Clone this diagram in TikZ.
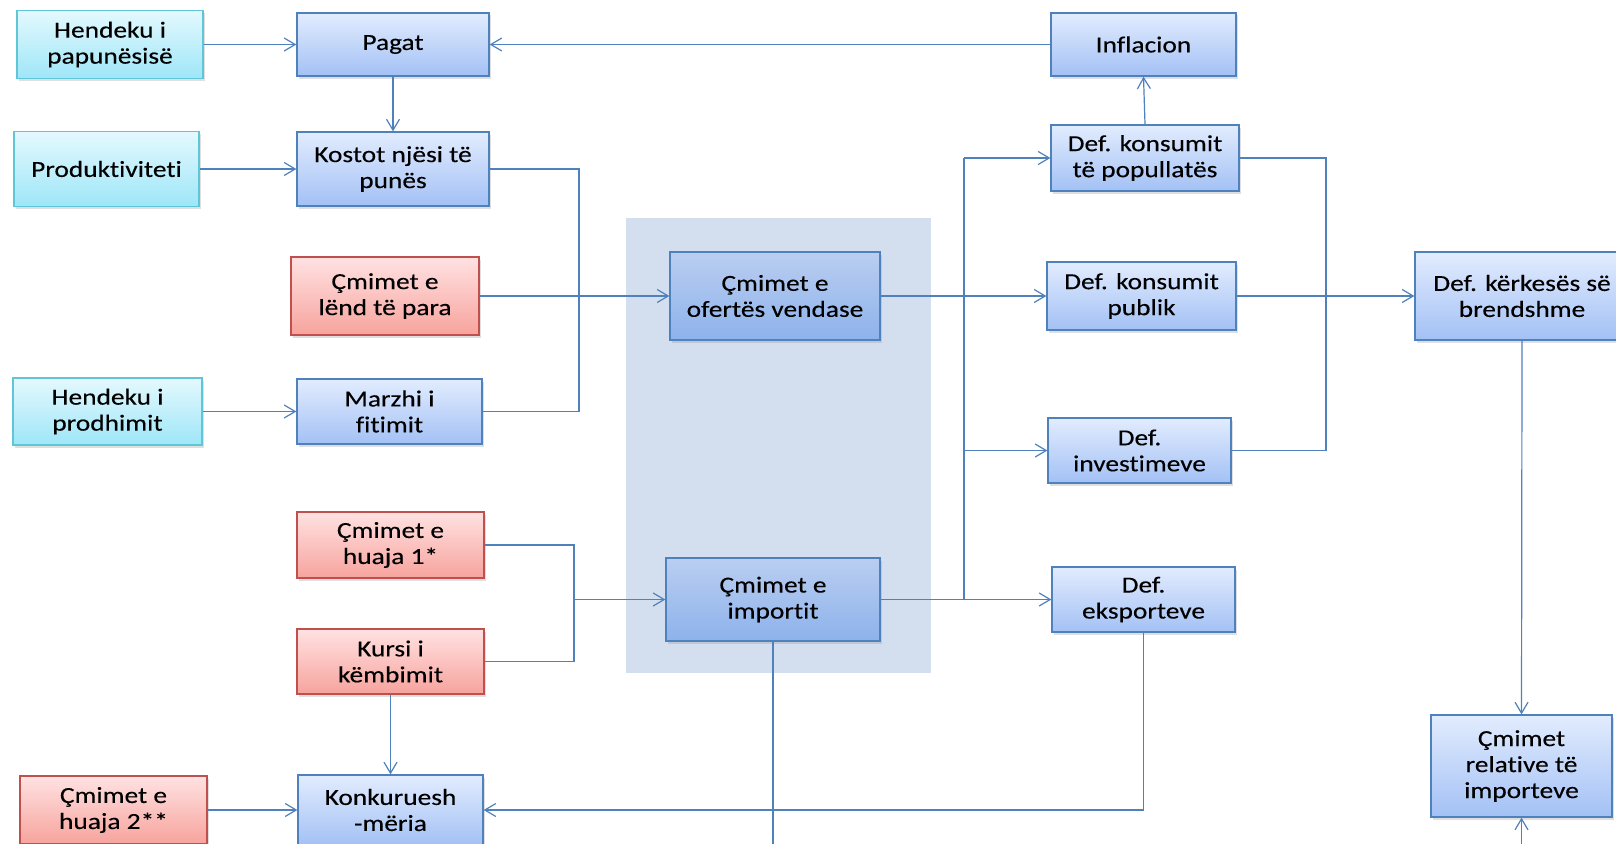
\documentclass[tikz,border=0pt]{standalone}
\usepackage{fontspec}
\setmainfont{Carlito}[Ligatures=NoCommon, FakeStretch=1.19, FakeBold=0.25]
\usetikzlibrary{arrows.meta,shadows}
\definecolor{lineblue}{HTML}{4F81BD}
\definecolor{cyantop}{HTML}{E4F9FE}
\definecolor{cyanbot}{HTML}{9EE6F8}
\definecolor{cyanedge}{HTML}{5FC6D8}
\definecolor{bluetop}{HTML}{E2ECFE}
\definecolor{bluebot}{HTML}{A3C1F5}
\definecolor{redtop}{HTML}{FFE2E2}
\definecolor{redbot}{HTML}{F7A39D}
\definecolor{rededge}{HTML}{C0504D}
\definecolor{midtop}{HTML}{BACEF1}
\definecolor{midbot}{HTML}{8DB2EB}
\definecolor{shadebg}{HTML}{D3DFEE}
\tikzset{
  box/.style={draw, line width=1.3pt, align=center, inner sep=2pt,
    font=\fontsize{23}{26}\selectfont,
    drop shadow={opacity=0.25, shadow xshift=2pt, shadow yshift=-2.5pt}},
  cbox/.style={box, draw=cyanedge, top color=cyantop, bottom color=cyanbot},
  bbox/.style={box, draw=lineblue, top color=bluetop, bottom color=bluebot},
  rbox/.style={box, draw=rededge, top color=redtop, bottom color=redbot},
  mbox/.style={box, draw=lineblue, top color=midtop, bottom color=midbot},
  conn/.style={draw=lineblue, line width=1.2pt},
  arr/.style={conn, -{Straight Barb[length=11pt,width=13pt,line width=1.2pt]}}
}
\begin{document}
\begin{tikzpicture}[x=1pt,y=-1pt]
\useasboundingbox (0,0) rectangle (1616,843);
\fill[white] (0,0) rectangle (1616,843);
\begin{scope}
\clip (0,0) rectangle (1616,843);
\fill[shadebg] (626,218) rectangle (931,673);

% left column
\node[cbox, minimum width=186pt, minimum height=68pt] (hp) at (110,44.5) {Hendeku i\\papunësisë};
\node[cbox, minimum width=185pt, minimum height=75pt] (prod) at (106.5,169) {Produktiviteti};
\node[cbox, minimum width=189pt, minimum height=67pt] (hprod) at (107.5,411.5) {Hendeku i\\prodhimit};
\node[rbox, minimum width=187pt, minimum height=68pt] (hua2) at (113.5,810) {Çmimet e\\huaja 2**};

% second column
\node[bbox, minimum width=192pt, minimum height=63pt] (pagat) at (393,44.5) {Pagat};
\node[bbox, minimum width=192pt, minimum height=74pt] (kostot) at (393,169) {Kostot njësi të\\punës};
\node[rbox, minimum width=188pt, minimum height=78pt] (lend) at (385,296) {Çmimet e\\lënd të para};
\node[bbox, minimum width=185pt, minimum height=65pt] (marzhi) at (389.5,411.5) {Marzhi i\\fitimit};
\node[rbox, minimum width=187pt, minimum height=66pt] (hua1) at (390.5,545) {Çmimet e\\huaja 1*};
\node[rbox, minimum width=187pt, minimum height=65pt] (kursi) at (390.5,661.5) {Kursi i\\këmbimit};
\node[bbox, minimum width=185pt, minimum height=70pt] (konk) at (390.5,810) {Konkuruesh\\-mëria};

% center
\node[mbox, minimum width=210pt, minimum height=88pt] (ofer) at (775,296) {Çmimet e\\ofertës vendase};
\node[mbox, minimum width=214pt, minimum height=83pt] (impo) at (773,599.5) {Çmimet e\\importit};

% right columns
\node[bbox, minimum width=185pt, minimum height=63pt] (infl) at (1143.5,44.5) {Inflacion};
\node[bbox, minimum width=188pt, minimum height=66pt] (dkp) at (1145,158) {Def. konsumit\\të popullatës};
\node[bbox, minimum width=189pt, minimum height=68pt] (dpub) at (1141.5,296) {Def. konsumit\\publik};
\node[bbox, minimum width=183pt, minimum height=65pt] (dinv) at (1139.5,450.5) {Def.\\investimeve};
\node[bbox, minimum width=183pt, minimum height=65pt] (deks) at (1143.5,599.5) {Def.\\eksporteve};
\node[bbox, minimum width=214pt, minimum height=88pt] (dkerk) at (1522,296) {Def. kërkesës së\\brendshme};
\node[bbox, minimum width=181pt, minimum height=102pt] (relat) at (1521.5,766) {Çmimet\\relative të\\importeve};

% junctions
\coordinate (j1) at (579,296);
\coordinate (j2) at (574,599.5);
\coordinate (btop) at (964,158);
\coordinate (bbot) at (964,599.5);
\coordinate (binv) at (964,450.5);
\coordinate (j3) at (1326,296);
\coordinate (impend) at (773,850);
\coordinate (relend) at (1521.5,850);

% connectors
\draw[arr] (hp.east) -- (pagat.west);
\draw[arr] (infl.west) -- (pagat.east);
\draw[arr] (pagat.south) -- (kostot.north);
\draw[arr] (prod.east) -- (kostot.west);
\draw[conn] (kostot.east) -| (j1);
\draw[conn] (marzhi.east) -| (j1);
\draw[arr] (lend.east) -- (ofer.west);
\draw[arr] (hprod.east) -- (marzhi.west);
\draw[conn] (hua1.east) -| (j2);
\draw[conn] (kursi.east) -| (j2);
\draw[arr] (j2) -- (impo.west);
\draw[arr] (kursi.south) -- (konk.north);
\draw[arr] (hua2.east) -- (konk.west);
\draw[arr] (deks.south) |- (konk.east);
\draw[conn] (impo.south) -- (impend);
\draw[conn] (btop) -- (bbot);
\draw[arr] (btop) -- (dkp.west);
\draw[arr] (binv) -- (dinv.west);
\draw[arr] (ofer.east) -- (dpub.west);
\draw[arr] (impo.east) -- (deks.west);
\draw[arr] (dkp.north) -- (infl.south);
\draw[conn] (dkp.east) -| (j3);
\draw[conn] (dinv.east) -| (j3);
\draw[arr] (dpub.east) -- (dkerk.west);
\draw[arr] (dkerk.south) -- (relat.north);
\draw[arr] (relend) -- (relat.south);
\end{scope}
\end{tikzpicture}
\end{document}
